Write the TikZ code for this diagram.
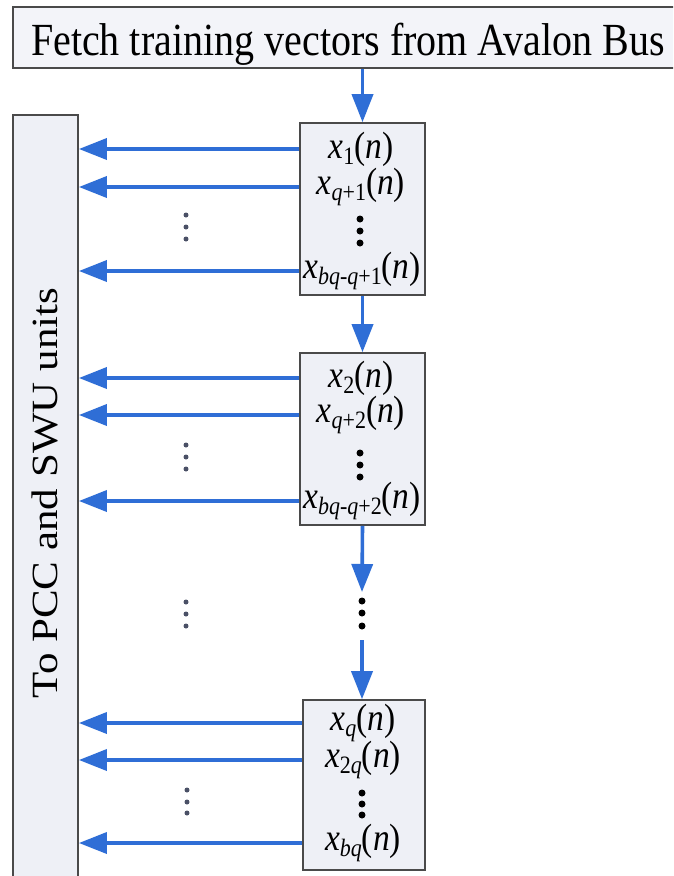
\documentclass[tikz,border=0pt]{standalone}
\usepackage{fontspec}
\setmainfont{Liberation Serif}
\usetikzlibrary{arrows.meta}
\definecolor{arrblue}{HTML}{2F6ED6}
\definecolor{boxfill}{HTML}{EEF0F6}
\definecolor{boxline}{HTML}{4A4A4A}
\definecolor{dotgrey}{HTML}{4A5066}
\newcommand{\sq}[1]{\scalebox{0.88}[1]{#1}}
\newcommand{\xv}[1]{\textit{x}\raisebox{-0.17em}{\fontsize{25}{25}\selectfont #1}(\textit{n})}
\tikzset{
  vbox/.style={draw=boxline, line width=1.6pt, fill=boxfill, minimum width=125pt, minimum height=172pt, inner sep=0pt},
  lbl/.style={font=\fontsize{38}{40}\selectfont, inner sep=0pt},
  arr/.style={draw=arrblue, line width=3.6pt, -{Triangle[length=28pt,width=21pt]}, arrblue},
  bdot/.style={circle, fill=black, inner sep=0pt, minimum size=7pt},
  sdot/.style={circle, fill=dotgrey, inner sep=0pt, minimum size=5pt}
}
\begin{document}
\begin{tikzpicture}[x=1pt,y=-1pt]
\useasboundingbox (0,0) rectangle (673,876);
\clip (0,0) rectangle (673,876);
\fill[white] (0,0) rectangle (673,876);
% top box
\node[draw=boxline, line width=1.8pt, fill=boxfill!70!white, minimum width=677pt, minimum height=61pt, inner sep=0pt] (fetch) at (351.5,37.5) {};
\node[font=\fontsize{46}{50}\selectfont, inner sep=0pt] (ftxt) at (348,44) {\scalebox{0.87}[1]{Fetch training vectors from Avalon Bus}};
% side box
\node[draw=boxline, line width=1.8pt, fill=boxfill, minimum width=65pt, minimum height=775pt, inner sep=0pt] (side) at (45.5,502.5) {};
\node[rotate=90, font=\fontsize{43}{46}\selectfont, inner sep=0pt] (stxt) at (45,493) {\scalebox{1}[0.86]{To PCC and SWU units}};
% box 1
\node[vbox] (b1) at (362.5,209) {};
\node[lbl] (l11) at (361,149) {\sq{\xv{1}}};
\node[lbl] (l12) at (361,187) {\sq{\xv{\textit{q}+1}}};
\node[lbl] (l13) at (362,271) {\sq{\xv{\textit{bq}-\textit{q}+1}}};
\node[bdot] (d11) at (360,219) {};
\node[bdot] (d12) at (360,231) {};
\node[bdot] (d13) at (360,243) {};
% box 2
\node[vbox] (b2) at (362.5,439) {};
\node[lbl] (l21) at (361,378) {\sq{\xv{2}}};
\node[lbl] (l22) at (361,415) {\sq{\xv{\textit{q}+2}}};
\node[lbl] (l23) at (362,501) {\sq{\xv{\textit{bq}-\textit{q}+2}}};
\node[bdot] (d21) at (360,453) {};
\node[bdot] (d22) at (360,465) {};
\node[bdot] (d23) at (360,477) {};
% box 3
\node[vbox, minimum width=122pt, minimum height=170pt] (b3) at (364,785) {};
\node[lbl] (l31) at (363,723) {\sq{\xv{\textit{q}}}};
\node[lbl] (l32) at (363,760) {\sq{\xv{2\textit{q}}}};
\node[lbl] (l33) at (363,843) {\sq{\xv{\textit{bq}}}};
\node[bdot] (d31) at (362,793) {};
\node[bdot] (d32) at (362,804) {};
\node[bdot] (d33) at (362,815) {};
% middle vertical dots
\node[bdot] (m1) at (362,601) {};
\node[bdot] (m2) at (362,613) {};
\node[bdot] (m3) at (362,626) {};
\coordinate (mtop) at (362,592);
\coordinate (mbot) at (362,640);
% left dots
\node[sdot] (s11) at (186,215) {};
\node[sdot] (s12) at (186,227) {};
\node[sdot] (s13) at (186,239) {};
\node[sdot] (s21) at (186,445) {};
\node[sdot] (s22) at (186,457) {};
\node[sdot] (s23) at (186,469) {};
\node[sdot] (s31) at (186,602) {};
\node[sdot] (s32) at (186,614) {};
\node[sdot] (s33) at (186,626) {};
\node[sdot] (s41) at (187,790) {};
\node[sdot] (s42) at (187,802) {};
\node[sdot] (s43) at (187,813) {};
% vertical arrows
\draw[arr] (fetch.south -| b1.north) -- (b1.north);
\draw[arr] (b1.south) -- (b2.north);
\draw[arr] (b2.south) -- (mtop);
\draw[arr] (mbot) -- (mbot |- b3.north);
% horizontal arrows
\draw[arr] (l11.center -| b1.west) -- (l11.center -| side.east);
\draw[arr] (l12.center -| b1.west) -- (l12.center -| side.east);
\draw[arr] (l13.center -| b1.west) -- (l13.center -| side.east);
\draw[arr] (l21.center -| b2.west) -- (l21.center -| side.east);
\draw[arr] (l22.center -| b2.west) -- (l22.center -| side.east);
\draw[arr] (l23.center -| b2.west) -- (l23.center -| side.east);
\draw[arr] (l31.center -| b3.west) -- (l31.center -| side.east);
\draw[arr] (l32.center -| b3.west) -- (l32.center -| side.east);
\draw[arr] (l33.center -| b3.west) -- (l33.center -| side.east);
\end{tikzpicture}
\end{document}
